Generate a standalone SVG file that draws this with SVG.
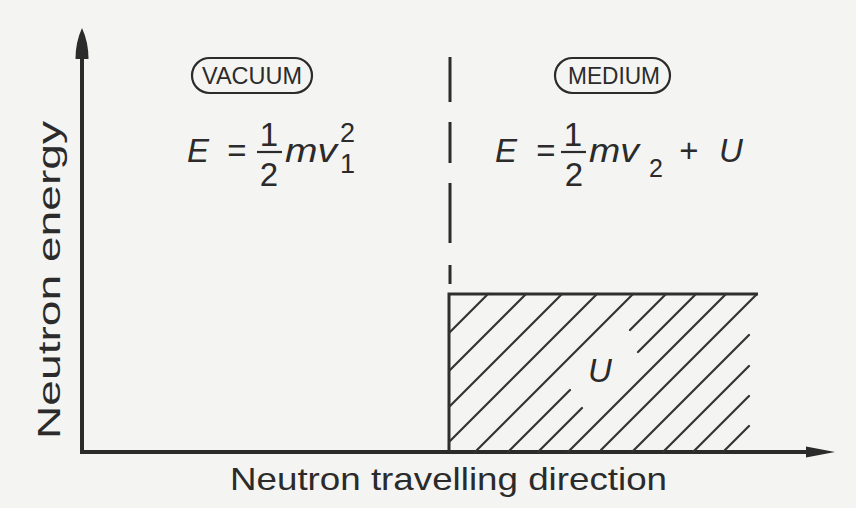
<svg xmlns="http://www.w3.org/2000/svg" width="856" height="508" viewBox="0 0 856 508">
  <style>
    .t { font-family: "Liberation Sans", Arial, Helvetica, sans-serif; fill: #2b2b2b; }
    .eq { font-size: 33px; }
    .it { font-style: italic; }
    .sup { font-size: 27px; }
    .sub2 { font-size: 25px; }
    .lab { font-size: 32px; }
    .tag { font-size: 23px; }
    .pill { fill: none; stroke: #2b2b2b; stroke-width: 2.2; }
    .bar { stroke: #2b2b2b; stroke-width: 2.2; }
    .axis { fill: none; stroke: #2b2b2b; stroke-width: 4; stroke-linejoin: miter; }
    .dash { fill: none; stroke: #2b2b2b; stroke-width: 3; }
    .edge { fill: none; stroke: #2e2e2e; stroke-width: 3; }
    .hatch { fill: none; stroke: #333; stroke-width: 2.2; stroke-linecap: round; }
  </style>
  <defs>
    <marker id="ahY" markerUnits="userSpaceOnUse" orient="auto-start-reverse" refX="0" refY="0" markerWidth="40" markerHeight="20" overflow="visible">
      <path d="M-1,-6.5 Q16,-6.5 30,0 Q16,6.5 -1,6.5 Z" fill="#2b2b2b"/>
    </marker>
    <marker id="ahX" markerUnits="userSpaceOnUse" orient="auto" refX="0" refY="0" markerWidth="40" markerHeight="20" overflow="visible">
      <path d="M-1,-5.5 L28,0 L-1,5.5 Z" fill="#2b2b2b"/>
    </marker>
  </defs>
  <rect x="0" y="0" width="856" height="508" fill="#f4f4f2"/>

  <g id="connectors">
    <path id="axes" class="axis" d="M82,58 V452 H807" marker-start="url(#ahY)" marker-end="url(#ahX)"/>
    <path id="boundary" class="dash" d="M450,57 V102 M450,122 V163 M450,183 V243 M450,265 V284"/>
  </g>

  <g id="region-U">
    <path class="edge" d="M449,452 V294 H758"/>
    <path class="hatch" d="
      M488,294 L449,333
      M526,294 L449,371
      M562,294 L449,407
      M597,294 L449,442
      M633,294 L475,452
      M666,294 L630,330 M570,390 L508,452
      M696,294 L638,352 M582,408 L538,452
      M726,294 L568,452
      M757,294 L601,450
      M749,335 L632,452
      M749,366 L663,452
      M749,396 L693,452
      M749,426 L723,452"/>
    <text class="t eq it" x="588" y="382">U</text>
  </g>

  <g id="vacuum">
    <rect class="pill" x="192" y="58" width="120" height="35" rx="17.5"/>
    <text class="t tag" x="252" y="84" text-anchor="middle" textLength="100" lengthAdjust="spacingAndGlyphs">VACUUM</text>
  </g>

  <g id="medium">
    <rect class="pill" x="555" y="58" width="115" height="35" rx="17.5"/>
    <text class="t tag" x="614" y="84" text-anchor="middle" textLength="92" lengthAdjust="spacingAndGlyphs">MEDIUM</text>
  </g>

  <g id="eq-vacuum">
    <text class="t eq it" x="187" y="162">E</text>
    <text class="t eq" x="237" y="162" text-anchor="middle">=</text>
    <text class="t eq" x="269" y="146" text-anchor="middle">1</text>
    <line class="bar" x1="257" y1="152" x2="282" y2="152"/>
    <text class="t eq" x="269" y="186" text-anchor="middle">2</text>
    <text class="t eq it" x="285" y="162" textLength="52" lengthAdjust="spacingAndGlyphs">mv</text>
    <text class="t sup" x="340" y="142">2</text>
    <text class="t sup" x="340" y="173">1</text>
  </g>

  <g id="eq-medium">
    <text class="t eq it" x="495" y="162">E</text>
    <text class="t eq" x="546" y="162" text-anchor="middle">=</text>
    <text class="t eq" x="573" y="146" text-anchor="middle">1</text>
    <line class="bar" x1="561" y1="152" x2="586" y2="152"/>
    <text class="t eq" x="574" y="186" text-anchor="middle">2</text>
    <text class="t eq it" x="589" y="162" textLength="50" lengthAdjust="spacingAndGlyphs">mv</text>
    <text class="t sub2" x="649" y="177">2</text>
    <text class="t eq" x="689" y="162" text-anchor="middle">+</text>
    <text class="t eq it" x="719" y="162">U</text>
  </g>

  <g id="y-label">
    <text class="t lab" transform="translate(60,439) rotate(-90)" x="0" y="0" textLength="318" lengthAdjust="spacingAndGlyphs">Neutron energy</text>
  </g>

  <g id="x-label">
    <text class="t lab" x="230" y="490" textLength="437" lengthAdjust="spacingAndGlyphs">Neutron travelling direction</text>
  </g>
</svg>
